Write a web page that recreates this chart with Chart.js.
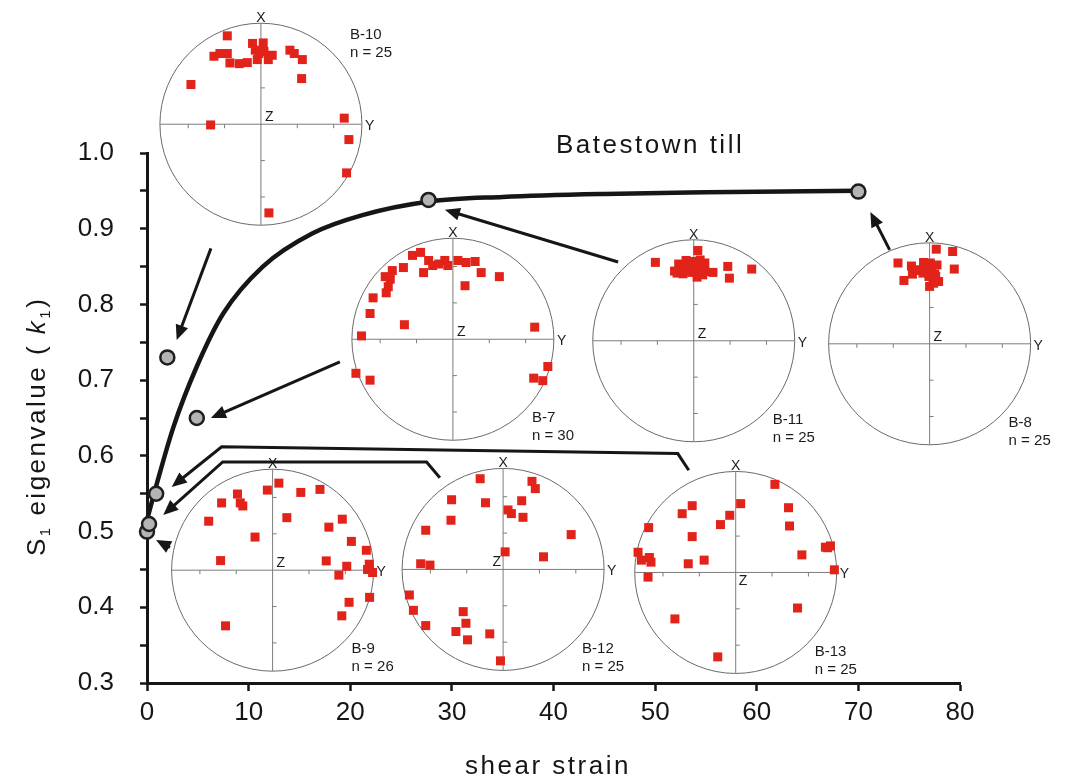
<!DOCTYPE html>
<html>
<head>
<meta charset="utf-8">
<title>Batestown till – S1 eigenvalue vs shear strain</title>
<script src="https://cdn.jsdelivr.net/npm/chart.js@4.4.1/dist/chart.umd.min.js"></script>
<style>
  html, body { margin: 0; padding: 0; background: #fff; }
  #chart { display: block; }
</style>
</head>
<body>
<canvas id="chart" width="1065" height="782"></canvas>
<script>
// Measured fabric strengths
const sampleStrain = [0, 0.2, 0.9, 2, 4.9, 27.7, 70];
const sampleK1 = [0.50, 0.51, 0.55, 0.73, 0.65, 0.938, 0.949];

// Fitted trend through the samples
const fitStrain = [0, 0.9, 2.6, 4.9, 7.5, 11.4, 16.3, 21.2, 27.8, 35, 45, 55, 70];
const fitK1 = [0.515, 0.56, 0.638, 0.718, 0.788, 0.85, 0.894, 0.918, 0.936, 0.942, 0.946, 0.948, 0.95];

const xTickStep = 10;
const yTickStep = 0.05;

// Pole positions on each stereonet, in unit-circle coordinates [Y, X]
const polesB10 = [
  [-0.333, 0.875], [-0.465, 0.673], [-0.406, 0.70], [-0.333, 0.70], [-0.307, 0.607],
  [-0.215, 0.60], [-0.135, 0.61], [-0.083, 0.80], [0.023, 0.805], [-0.056, 0.733],
  [-0.036, 0.64], [0.073, 0.64], [0.112, 0.683], [0.287, 0.733], [0.33, 0.70],
  [0.41, 0.64], [0.403, 0.452], [-0.693, 0.393], [-0.498, -0.007], [0.825, 0.06],
  [0.871, -0.152], [0.848, -0.482], [0.079, -0.878], [-0.02, 0.70], [0.03, 0.72]
];
const polesB7 = [
  [-0.40, 0.83], [-0.32, 0.86], [-0.24, 0.78], [-0.20, 0.73], [-0.14, 0.745],
  [-0.08, 0.78], [-0.05, 0.73], [0.05, 0.78], [0.13, 0.76], [0.22, 0.77],
  [0.28, 0.66], [0.46, 0.62], [0.12, 0.53], [-0.29, 0.66], [-0.49, 0.71],
  [-0.60, 0.68], [-0.67, 0.62], [-0.62, 0.595], [-0.64, 0.52], [-0.66, 0.46],
  [-0.79, 0.41], [-0.82, 0.255], [-0.48, 0.144], [-0.905, 0.033], [-0.96, -0.337],
  [-0.82, -0.405], [0.81, 0.12], [0.94, -0.27], [0.80, -0.385], [0.89, -0.41]
];
const polesB11 = [
  [0.04, 0.894], [-0.38, 0.776], [0.574, 0.71], [0.337, 0.736], [0.353, 0.62],
  [-0.149, 0.76], [-0.076, 0.795], [-0.116, 0.736], [-0.19, 0.69], [-0.106, 0.663],
  [-0.05, 0.70], [0.007, 0.785], [0.063, 0.80], [0.11, 0.77], [0.04, 0.70],
  [0.11, 0.686], [0.19, 0.677], [0.033, 0.63], [0.089, 0.653], [-0.02, 0.677],
  [-0.06, 0.736], [-0.165, 0.67], [0.073, 0.72], [0, 0.736], [-0.09, 0.70]
];
const polesB8 = [
  [0.066, 0.937], [0.228, 0.914], [-0.313, 0.80], [-0.18, 0.77], [-0.06, 0.805],
  [0.007, 0.80], [0.073, 0.78], [0.244, 0.74], [-0.17, 0.69], [-0.092, 0.726],
  [-0.017, 0.706], [0.05, 0.69], [-0.254, 0.627], [0.033, 0.634], [0.089, 0.617],
  [0, 0.568], [0.05, 0.64], [0.017, 0.733], [-0.033, 0.75], [0.06, 0.667],
  [0.026, 0.683], [-0.007, 0.667], [0.04, 0.60], [-0.13, 0.733], [-0.066, 0.70]
];
const polesB9 = [
  [0.062, 0.862], [-0.052, 0.793], [0.279, 0.77], [0.469, 0.80], [-0.348, 0.754],
  [-0.505, 0.666], [-0.32, 0.666], [-0.295, 0.636], [-0.633, 0.485], [0.141, 0.52],
  [0.69, 0.505], [0.557, 0.426], [-0.174, 0.328], [0.78, 0.285], [0.928, 0.197],
  [-0.515, 0.095], [0.531, 0.092], [0.734, 0.039], [0.957, 0.059], [0.94, 0.007],
  [0.99, -0.023], [0.656, -0.049], [0.96, -0.269], [0.757, -0.318], [0.685, -0.452],
  [-0.466, -0.551]
];
const polesB12 = [
  [-0.227, 0.898], [0.286, 0.872], [0.319, 0.80], [-0.51, 0.69], [-0.174, 0.66],
  [0.184, 0.68], [0.049, 0.589], [0.082, 0.553], [0.197, 0.516], [-0.516, 0.487],
  [-0.766, 0.388], [0.674, 0.345], [0.02, 0.174], [0.40, 0.125], [-0.816, 0.056],
  [-0.724, 0.043], [-0.928, -0.253], [-0.888, -0.405], [-0.395, -0.418], [-0.766, -0.556],
  [-0.368, -0.533], [-0.467, -0.615], [-0.352, -0.697], [-0.132, -0.638], [-0.026, -0.905]
];
const polesB13 = [
  [0.388, 0.872], [0.049, 0.681], [-0.431, 0.661], [-0.53, 0.582], [0.523, 0.641],
  [-0.059, 0.566], [-0.151, 0.474], [0.533, 0.46], [-0.862, 0.444], [-0.431, 0.355],
  [0.888, 0.25], [0.938, 0.263], [0.655, 0.174], [-0.967, 0.20], [-0.934, 0.122],
  [-0.855, 0.148], [-0.839, 0.102], [-0.3125, 0.122], [-0.47, 0.086], [0.977, 0.026],
  [-0.868, -0.046], [0.612, -0.352], [-0.602, -0.46], [-0.178, -0.836], [0.91, 0.245]
];

// Where each stereonet sits (in strain / k1 units) and the arrow that links it to its sample
const stereonets = [
  { name: 'B-10', poles: polesB10, at: [11.21, 1.038], label: 'top', z: 'ne',
    arrow: [[6.29, 0.874], [2.92, 0.753]] },
  { name: 'B-7', poles: polesB7, at: [30.10, 0.754], label: 'bottom', z: 'ne',
    arrow: [[18.98, 0.724], [6.29, 0.650]] },
  { name: 'B-11', poles: polesB11, at: [53.80, 0.752], label: 'bottom', z: 'ne',
    arrow: [[46.36, 0.856], [29.31, 0.925]] },
  { name: 'B-8', poles: polesB8, at: [77.01, 0.748], label: 'bottom', z: 'ne',
    arrow: [[73.08, 0.872], [71.18, 0.922]] },
  { name: 'B-9', poles: polesB9, at: [12.36, 0.449], label: 'bottom', z: 'ne',
    arrow: [[2.26, 0.479], [0.89, 0.489]] },
  { name: 'B-12', poles: polesB12, at: [35.04, 0.450], label: 'bottom', z: 'nw',
    arrow: [[28.82, 0.571], [27.51, 0.592], [7.45, 0.592], [1.60, 0.522]] },
  { name: 'B-13', poles: polesB13, at: [57.93, 0.446], label: 'bottom', z: 'se',
    arrow: [[53.31, 0.581], [52.23, 0.603], [7.35, 0.612], [2.43, 0.559]] }
];

const FONT = "'Liberation Sans', Arial, Helvetica, sans-serif";
const INK = '#161616';
const NET_RADIUS = 101;

function drawStereonet(ctx, xs, ys, net) {
  const cx = xs.getPixelForValue(net.at[0]);
  const cy = ys.getPixelForValue(net.at[1]);
  const r = NET_RADIUS;

  ctx.save();
  ctx.lineWidth = 1;
  ctx.strokeStyle = '#6a6a6a';
  ctx.beginPath();
  ctx.arc(cx, cy, r, 0, Math.PI * 2);
  ctx.stroke();

  // X-Y cross and its tick marks
  ctx.strokeStyle = '#7c7c7c';
  ctx.beginPath();
  ctx.moveTo(cx - r, cy); ctx.lineTo(cx + r, cy);
  ctx.moveTo(cx, cy - r); ctx.lineTo(cx, cy + r);
  [-0.72, -0.36, 0.36, 0.72].forEach(f => {
    ctx.moveTo(cx + f * r, cy); ctx.lineTo(cx + f * r, cy + 4);
    ctx.moveTo(cx, cy - f * r); ctx.lineTo(cx + 4, cy - f * r);
  });
  ctx.stroke();

  ctx.fillStyle = '#1c1c1c';
  ctx.font = `14px ${FONT}`;
  ctx.textAlign = 'center';
  ctx.textBaseline = 'alphabetic';
  ctx.fillText('X', cx, cy - r - 1);
  ctx.textAlign = 'left';
  ctx.textBaseline = 'middle';
  ctx.fillText('Y', cx + r + 3, cy + 2);

  if (net.z === 'nw') {
    ctx.textAlign = 'right';
    ctx.textBaseline = 'alphabetic';
    ctx.fillText('Z', cx - 2, cy - 3);
  } else if (net.z === 'se') {
    ctx.textAlign = 'left';
    ctx.textBaseline = 'top';
    ctx.fillText('Z', cx + 3, cy + 2);
  } else {
    ctx.textAlign = 'left';
    ctx.textBaseline = 'alphabetic';
    ctx.fillText('Z', cx + 4, cy - 3);
  }

  // sample name and pole count
  ctx.font = `15px ${FONT}`;
  ctx.textAlign = 'left';
  ctx.textBaseline = 'middle';
  const lx = net.label === 'top' ? cx + 89 : cx + 79;
  const ly = net.label === 'top' ? cy - 89 : cy + 79;
  ctx.fillText(net.name, lx, ly);
  ctx.fillText(`n = ${net.poles.length}`, lx, ly + 18);

  // poles
  ctx.fillStyle = '#e2231a';
  net.poles.forEach(([u, v]) => {
    ctx.fillRect(cx + u * r - 4.5, cy - v * r - 4.5, 9, 9);
  });
  ctx.restore();
}

function drawArrow(ctx, xs, ys, path) {
  const pts = path.map(([sx, k]) => [xs.getPixelForValue(sx), ys.getPixelForValue(k)]);
  const [tx, ty] = pts[pts.length - 1];
  const [px, py] = pts[pts.length - 2];
  const ang = Math.atan2(ty - py, tx - px);
  const headLen = 15, headHalf = 6.5;

  ctx.save();
  ctx.strokeStyle = INK;
  ctx.fillStyle = INK;
  ctx.lineWidth = 3;
  ctx.lineJoin = 'miter';
  ctx.beginPath();
  ctx.moveTo(pts[0][0], pts[0][1]);
  for (let i = 1; i < pts.length - 1; i++) ctx.lineTo(pts[i][0], pts[i][1]);
  ctx.lineTo(tx - Math.cos(ang) * (headLen - 2), ty - Math.sin(ang) * (headLen - 2));
  ctx.stroke();

  ctx.beginPath();
  ctx.moveTo(tx, ty);
  ctx.lineTo(tx - Math.cos(ang) * headLen - Math.sin(ang) * headHalf,
             ty - Math.sin(ang) * headLen + Math.cos(ang) * headHalf);
  ctx.lineTo(tx - Math.cos(ang) * headLen + Math.sin(ang) * headHalf,
             ty - Math.sin(ang) * headLen - Math.cos(ang) * headHalf);
  ctx.closePath();
  ctx.fill();
  ctx.restore();
}

// Runs of text with subscripts / italics, drawn along the current x direction
function drawRuns(ctx, runs, spacing) {
  let pos = 0;
  runs.forEach(run => {
    ctx.font = `${run.italic ? 'italic ' : ''}${run.size}px ${FONT}`;
    ctx.letterSpacing = `${spacing}px`;
    ctx.fillText(run.text, pos, run.shift || 0);
    pos += ctx.measureText(run.text).width;
  });
  ctx.letterSpacing = '0px';
}

const stereonetPlugin = {
  id: 'stereonets',
  beforeDatasetsDraw(chart) {
    const { ctx, scales: { x, y } } = chart;
    stereonets.forEach(net => drawStereonet(ctx, x, y, net));
  },
  afterDatasetsDraw(chart) {
    const { ctx, scales: { x, y } } = chart;
    stereonets.forEach(net => drawArrow(ctx, x, y, net.arrow));
  },
  afterDraw(chart) {
    const { ctx } = chart;
    ctx.save();
    ctx.fillStyle = INK;
    ctx.textBaseline = 'alphabetic';
    ctx.textAlign = 'left';

    ctx.font = `26px ${FONT}`;
    ctx.letterSpacing = '2.5px';
    ctx.fillText('Batestown till', 556, 153);

    ctx.textAlign = 'center';
    ctx.fillText('shear strain', 548, 774);
    ctx.letterSpacing = '0px';

    // y axis title, reading upwards
    ctx.textAlign = 'left';
    ctx.translate(45, 556);
    ctx.rotate(-Math.PI / 2);
    drawRuns(ctx, [
      { text: 'S', size: 26 },
      { text: '1', size: 15, shift: 5 },
      { text: ' eigenvalue ( ', size: 26 },
      { text: 'k', size: 26, italic: true },
      { text: '1', size: 15, shift: 5 },
      { text: ')', size: 26 }
    ], 2.5);
    ctx.restore();
  }
};

const tickFont = { family: FONT, size: 26 };

const ctx = document.getElementById('chart').getContext('2d');
new Chart(ctx, {
  type: 'scatter',
  data: {
    datasets: [
      {
        label: 'Samples',
        data: sampleStrain.map((s, i) => ({ x: s, y: sampleK1[i] })),
        pointRadius: 7,
        pointBackgroundColor: '#b4b4b4',
        pointBorderColor: '#1e1e1e',
        pointBorderWidth: 2.5,
        clip: false,
        order: 0
      },
      {
        label: 'Trend',
        data: fitStrain.map((s, i) => ({ x: s, y: fitK1[i] })),
        showLine: true,
        borderColor: INK,
        borderWidth: 4.5,
        pointRadius: 0,
        cubicInterpolationMode: 'monotone',
        fill: false,
        clip: false,
        order: 1
      }
    ]
  },
  options: {
    responsive: false,
    animation: false,
    devicePixelRatio: 1,
    layout: { padding: { top: 153, right: 105, left: 0, bottom: 0 } },
    plugins: {
      legend: { display: false },
      tooltip: { enabled: false }
    },
    scales: {
      x: {
        type: 'linear',
        min: 0,
        max: 80,
        ticks: { stepSize: xTickStep, padding: 6, font: tickFont, color: INK, autoSkip: false },
        grid: { drawOnChartArea: false, drawTicks: true, tickLength: 8, tickWidth: 2.5, tickColor: INK },
        border: { display: true, color: INK, width: 3 },
        afterFit: scale => { scale.height = 99; }
      },
      y: {
        type: 'linear',
        min: 0.3,
        max: 1.0,
        ticks: {
          stepSize: yTickStep,
          padding: 26,
          font: tickFont,
          color: INK,
          autoSkip: false,
          callback: v => (Math.round(v * 100) % 10 === 0 ? v.toFixed(1) : '')
        },
        grid: { drawOnChartArea: false, drawTicks: true, tickLength: 7, tickWidth: 2.5, tickColor: INK },
        border: { display: true, color: INK, width: 3 },
        afterFit: scale => { scale.width = 147; }
      }
    }
  },
  plugins: [stereonetPlugin]
});
</script>
</body>
</html>
